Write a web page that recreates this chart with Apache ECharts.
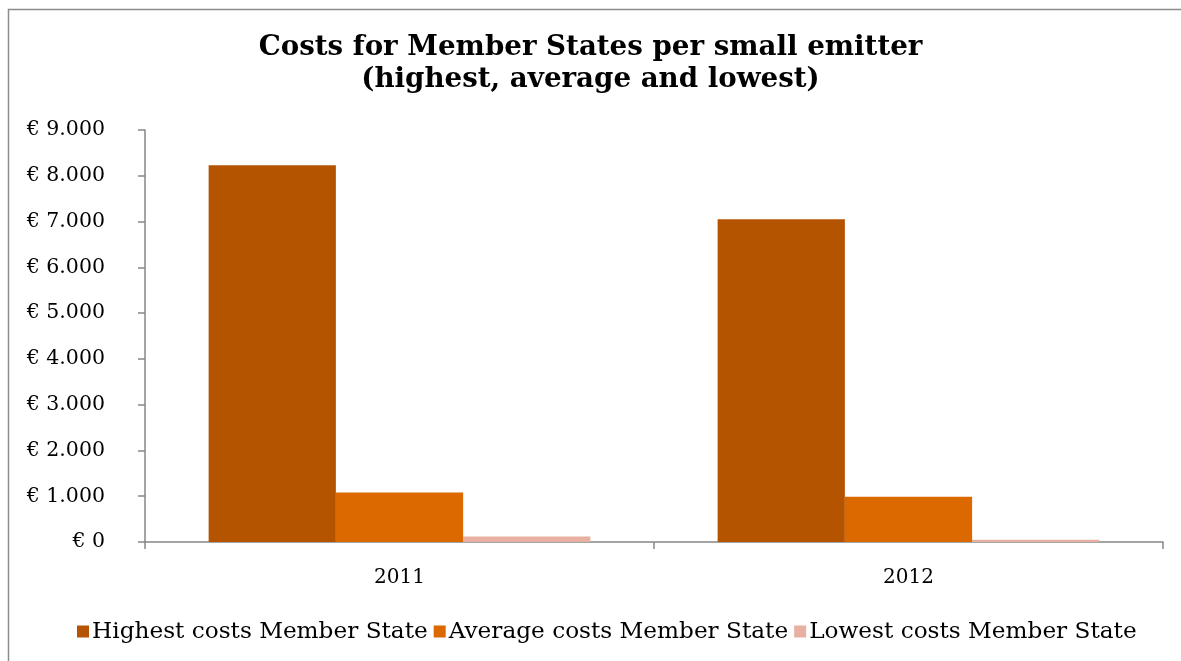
<!DOCTYPE html>
<html>
<head>
<meta charset="utf-8">
<script src="https://cdn.jsdelivr.net/npm/echarts@6/dist/echarts.min.js"></script>
<style>
  html, body { margin: 0; padding: 0; background: #ffffff; }
  #chart { width: 1181px; height: 661px; }
</style>
</head>
<body>
<div id="chart"></div>
<script>
// Cost per small emitter, by year
const years = ['2011', '2012'];
const highestCosts = [8230, 7050];
const averageCosts = [1080, 990];
const lowestCosts = [120, 50];
const seriesNames = ['Highest costs Member State', 'Average costs Member State', 'Lowest costs Member State'];
const seriesColors = ['#B45300', '#DC6900', '#E8B0A0'];

const serif = '"DejaVu Serif", "Liberation Serif", serif';

// "€ 9.000" style labels with a dot as thousands separator
function euro(v) {
  return '€ ' + String(v).replace(/\B(?=(\d{3})+(?!\d))/g, '.');
}

const chart = echarts.init(document.getElementById('chart'), null, { renderer: 'canvas' });

chart.setOption({
  animation: false,
  backgroundColor: '#ffffff',
  graphic: [{
    type: 'rect',
    shape: { x: 8.5, y: 9.5, width: 1300, height: 800 },
    style: { fill: 'none', stroke: '#8c8c8c', lineWidth: 1.5 },
    silent: true
  }],
  title: {
    text: 'Costs for Member States per small emitter\n(highest, average and lowest)',
    left: 'center',
    top: 27,
    textStyle: {
      fontFamily: serif,
      fontWeight: 'bold',
      fontSize: 27.7,
      lineHeight: 32,
      color: '#000000'
    }
  },
  legend: {
    bottom: 13,
    left: 72,
    itemWidth: 12,
    itemHeight: 12,
    itemGap: 6,
    icon: 'rect',
    textStyle: { fontFamily: serif, fontSize: 23.2, color: '#000000', padding: [0, 0, 0, -2] },
    data: seriesNames
  },
  grid: { left: 145, right: 18, top: 130, height: 412, containLabel: false },
  xAxis: {
    type: 'category',
    data: years,
    axisLine: { lineStyle: { color: '#868686', width: 1.5 } },
    axisTick: { show: true, length: 7, lineStyle: { color: '#868686', width: 1.5 } },
    axisLabel: { fontFamily: serif, fontSize: 20, color: '#000000', margin: 26 }
  },
  yAxis: {
    type: 'value',
    min: 0,
    max: 9000,
    interval: 1000,
    splitLine: { show: false },
    axisLine: { show: true, lineStyle: { color: '#868686', width: 1.5 } },
    axisTick: { show: true, length: 7, lineStyle: { color: '#868686', width: 1.5 } },
    axisLabel: { fontFamily: serif, fontSize: 20.5, color: '#000000', margin: 40, formatter: euro }
  },
  series: [
    { name: seriesNames[0], type: 'bar', data: highestCosts, itemStyle: { color: seriesColors[0] }, barGap: '0%', barCategoryGap: '25%' },
    { name: seriesNames[1], type: 'bar', data: averageCosts, itemStyle: { color: seriesColors[1] }, barGap: '0%', barCategoryGap: '25%' },
    { name: seriesNames[2], type: 'bar', data: lowestCosts, itemStyle: { color: seriesColors[2] }, barGap: '0%', barCategoryGap: '25%' }
  ]
});
</script>
</body>
</html>
